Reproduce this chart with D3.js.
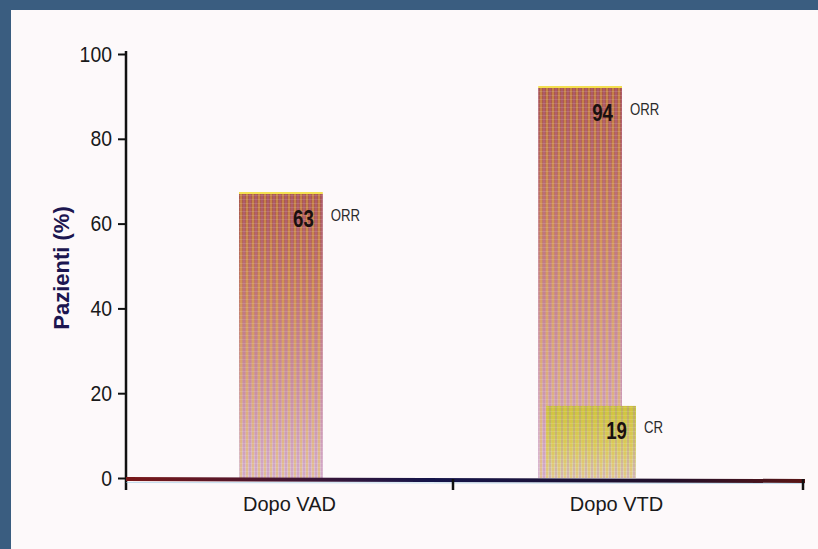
<!DOCTYPE html>
<html>
<head>
<meta charset="utf-8">
<script src="https://cdn.jsdelivr.net/npm/d3@7"></script>
<style>
  body { margin: 0; background: #fdf9fa; }
  svg { display: block; }
  text { font-family: "Liberation Sans", Arial, sans-serif; }
</style>
</head>
<body>
<div id="chart"></div>
<script>
// values
var categories = ["Dopo VAD", "Dopo VTD"];
var orrHeights = [67, 92];     // drawn bar height (%)
var orrLabels = ["63", "94"];  // printed value
var crHeights = [null, 17];
var crLabels = [null, "19"];
var yTicks = [0, 20, 40, 60, 80, 100];

var width = 818,
    height = 549,
    font = "'Liberation Sans', Arial, sans-serif";

var svg = d3.select("#chart").append("svg")
    .attr("width", width)
    .attr("height", height);

// frame (scanned page edge)
svg.append("rect").attr("x", 0).attr("y", 0).attr("width", width).attr("height", height).attr("fill", "#fdf9fa");
svg.append("rect").attr("x", 0).attr("y", 0).attr("width", width).attr("height", 10).attr("fill", "#3a5d80");
svg.append("rect").attr("x", 0).attr("y", 0).attr("width", 11).attr("height", height).attr("fill", "#3a5d80");

// scales
var y = d3.scaleLinear().domain([0, 100]).range([478, 54]);
var xAxisScale = d3.scaleBand().domain(categories).range([126, 780]);
var xBar = d3.scaleBand().domain(categories).range([239, 622]).paddingInner(0.72);

// fills
var defs = svg.append("defs");
var gOrr = defs.append("linearGradient").attr("id", "gradOrr")
    .attr("x1", 0).attr("y1", 0).attr("x2", 0).attr("y2", 1);
gOrr.append("stop").attr("offset", "0%").attr("stop-color", "#a9584a");
gOrr.append("stop").attr("offset", "35%").attr("stop-color", "#c27c66");
gOrr.append("stop").attr("offset", "70%").attr("stop-color", "#d0a09e");
gOrr.append("stop").attr("offset", "100%").attr("stop-color", "#dcc2cc");

var gCr = defs.append("linearGradient").attr("id", "gradCr")
    .attr("x1", 0).attr("y1", 0).attr("x2", 0).attr("y2", 1);
gCr.append("stop").attr("offset", "0%").attr("stop-color", "#c4c63c");
gCr.append("stop").attr("offset", "55%").attr("stop-color", "#d4d06a");
gCr.append("stop").attr("offset", "100%").attr("stop-color", "#ddd2b4");

var stripes = defs.append("pattern").attr("id", "stripes")
    .attr("patternUnits", "userSpaceOnUse").attr("width", 6).attr("height", 4);
stripes.append("rect").attr("x", 0).attr("y", 0).attr("width", 2).attr("height", 4)
    .attr("fill", "#eab840").attr("opacity", 0.4);
stripes.append("rect").attr("x", 3).attr("y", 0).attr("width", 2).attr("height", 4)
    .attr("fill", "#b85cc0").attr("opacity", 0.25);
stripes.append("rect").attr("x", 0).attr("y", 3).attr("width", 6).attr("height", 1)
    .attr("fill", "#ffffff").attr("opacity", 0.12);

// ORR bars
var orr = svg.append("g");
orr.selectAll("rect.bar")
    .data(categories)
    .enter().append("rect")
        .attr("class", "bar")
        .attr("x", function(d) { return xBar(d); })
        .attr("y", function(d, i) { return y(orrHeights[i]); })
        .attr("width", xBar.bandwidth())
        .attr("height", function(d, i) { return y(0) - y(orrHeights[i]); })
        .attr("fill", "url(#gradOrr)");
orr.selectAll("rect.tex")
    .data(categories)
    .enter().append("rect")
        .attr("class", "tex")
        .attr("x", function(d) { return xBar(d); })
        .attr("y", function(d, i) { return y(orrHeights[i]); })
        .attr("width", xBar.bandwidth())
        .attr("height", function(d, i) { return y(0) - y(orrHeights[i]); })
        .attr("fill", "url(#stripes)");
orr.selectAll("line.top")
    .data(categories)
    .enter().append("line")
        .attr("x1", function(d) { return xBar(d); })
        .attr("x2", function(d) { return xBar(d) + xBar.bandwidth(); })
        .attr("y1", function(d, i) { return y(orrHeights[i]) - 1; })
        .attr("y2", function(d, i) { return y(orrHeights[i]) - 1; })
        .attr("stroke", "#f3df50").attr("stroke-width", 2);

// CR bar
var crData = categories.filter(function(d, i) { return crHeights[i] != null; });
var cr = svg.append("g");
cr.selectAll("rect.bar")
    .data(crData)
    .enter().append("rect")
        .attr("x", function(d) { return xBar(d) + 8; })
        .attr("y", function(d) { return y(crHeights[categories.indexOf(d)]); })
        .attr("width", xBar.bandwidth() + 6)
        .attr("height", function(d) { return y(0) - y(crHeights[categories.indexOf(d)]); })
        .attr("fill", "url(#gradCr)");
cr.selectAll("rect.tex")
    .data(crData)
    .enter().append("rect")
        .attr("x", function(d) { return xBar(d) + 8; })
        .attr("y", function(d) { return y(crHeights[categories.indexOf(d)]); })
        .attr("width", xBar.bandwidth() + 6)
        .attr("height", function(d) { return y(0) - y(crHeights[categories.indexOf(d)]); })
        .attr("fill", "url(#stripes)");

// value labels (condensed look)
function addLabel(x, yTop, big, small) {
    svg.append("text")
        .attr("transform", "translate(" + x + "," + (yTop + 33) + ") scale(0.85,1.1)")
        .attr("text-anchor", "end")
        .attr("font-size", 22).attr("font-weight", "bold")
        .attr("fill", "#1a1010")
        .text(big);
    svg.append("text")
        .attr("transform", "translate(" + (x + 17) + "," + (yTop + 27) + ") scale(0.88,1.05)")
        .attr("font-size", 15)
        .attr("fill", "#2a2a2a")
        .text(small);
}
categories.forEach(function(d, i) {
    addLabel(xBar(d) + xBar.bandwidth() - 9, y(orrHeights[i]), orrLabels[i], "ORR");
    if (crHeights[i] != null) {
        addLabel(xBar(d) + xBar.bandwidth() + 5, y(crHeights[i]), crLabels[i], "CR");
    }
});

// y axis
var yAxis = svg.append("g")
    .attr("transform", "translate(126,0)")
    .call(d3.axisLeft(y).tickValues(yTicks).tickSize(8).tickPadding(6));
yAxis.select(".domain").remove();
yAxis.selectAll(".tick line").attr("stroke", "#111").attr("stroke-width", 2);
yAxis.selectAll(".tick text")
    .attr("font-size", 22)
    .attr("fill", "#1a1a1a")
    .attr("x", -16)
    .attr("transform", "scale(0.88,1)")
    .style("font-family", font);
svg.append("line")
    .attr("x1", 126).attr("x2", 126)
    .attr("y1", y(100) - 3).attr("y2", y(0) + 12)
    .attr("stroke", "#111").attr("stroke-width", 2.5);

svg.append("text")
    .attr("transform", "translate(" + 69 + "," + 268 + ") rotate(-90)")
    .attr("text-anchor", "middle")
    .attr("font-size", 22).attr("font-weight", "bold")
    .attr("fill", "#1c1650")
    .text("Pazienti (%)");

// x axis
var xGrad = defs.append("linearGradient").attr("id", "gradAxis")
    .attr("gradientUnits", "userSpaceOnUse")
    .attr("x1", 126).attr("y1", 0).attr("x2", 805).attr("y2", 0);
xGrad.append("stop").attr("offset", "0%").attr("stop-color", "#7a1818");
xGrad.append("stop").attr("offset", "45%").attr("stop-color", "#15154a");
xGrad.append("stop").attr("offset", "80%").attr("stop-color", "#22102a");
xGrad.append("stop").attr("offset", "100%").attr("stop-color", "#5a1515");

var xAxis = svg.append("g")
    .attr("transform", "translate(0," + (y(0) + 1) + ")")
    .call(d3.axisBottom(xAxisScale).tickSize(0).tickPadding(18));
xAxis.select(".domain").remove();
xAxis.selectAll(".tick text")
    .attr("font-size", 20)
    .attr("fill", "#1a1a1a")
    .style("font-family", font);

svg.append("line")
    .attr("x1", 126).attr("x2", 805)
    .attr("y1", y(0) + 1).attr("y2", y(0) + 3)
    .attr("stroke", "url(#gradAxis)").attr("stroke-width", 4);
svg.append("line")
    .attr("x1", 126).attr("x2", 805)
    .attr("y1", y(0) + 4.5).attr("y2", y(0) + 5.5)
    .attr("stroke", "#8ec6e6").attr("stroke-width", 1).attr("opacity", 0.5);

// band boundary ticks
var boundaries = [xAxisScale.range()[0] + xAxisScale.step(), 803];
svg.selectAll("line.xtick")
    .data(boundaries)
    .enter().append("line")
        .attr("class", "xtick")
        .attr("x1", function(d) { return d; }).attr("x2", function(d) { return d; })
        .attr("y1", y(0) + 1).attr("y2", y(0) + 12)
        .attr("stroke", "#111").attr("stroke-width", 2.5);
</script>
</body>
</html>
